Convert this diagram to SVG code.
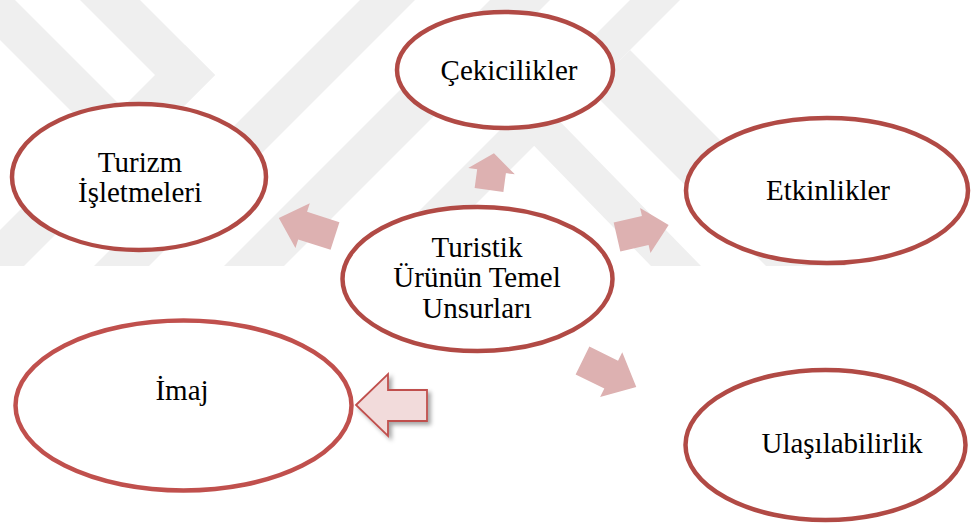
<svg xmlns="http://www.w3.org/2000/svg" width="972" height="526" viewBox="0 0 972 526">
<style>
.node{fill:#ffffff;stroke:#b14a45;stroke-width:4.5}
.node2{fill:#ffffff;stroke:#c0504d;stroke-width:4.5}
.lbl{font-family:"Liberation Serif","Times New Roman",serif;font-size:29px;fill:#000;text-anchor:middle}
.arr{fill:#ddb1b1;stroke:none}
.wm{fill:#efefef}
</style>
<defs>
<clipPath id="wmclip"><rect x="0" y="0" width="972" height="266"/></clipPath>
<filter id="sh" x="-20%" y="-20%" width="150%" height="150%">
<feDropShadow dx="3" dy="3" stdDeviation="2" flood-color="#000" flood-opacity="0.35"/>
</filter>
</defs>
<rect width="972" height="526" fill="#ffffff"/>
<g id="watermark" clip-path="url(#wmclip)">
<polygon class="wm" points="630,0 680,0 414,266 364,266"/>
<polygon class="wm" points="490,0 550,0 284,266 224,266"/>
<polygon class="wm" points="360,0 415,0 149,266 94,266"/>
<polygon class="wm" points="-40,0 15,0 165,150 110,150"/>
<polygon class="wm" points="80,0 140,0 215,75 185,105"/>
<polygon class="wm" points="185,45 215,75 24,266 -36,266"/>
<polygon class="wm" points="630,50 846,266 766,266 590,90"/>
<polygon class="wm" points="495,55 701,266 651,266 470,80"/>
</g>
<g id="connectors">
<path class="arr" transform="translate(489,190) rotate(-82.3)" d="M0,-14.5 L19,-14.5 L19,-23.5 L37,0 L19,23.5 L19,14.5 L0,14.5 Z"/>
<path class="arr" transform="translate(335,236) rotate(-162.2)" d="M0,-14.5 L34,-14.5 L34,-23.5 L59,0 L34,23.5 L34,14.5 L0,14.5 Z"/>
<path class="arr" transform="translate(617,237) rotate(-13)" d="M0,-14.8 L29,-14.8 L29,-23 L53,0 L29,23 L29,14.8 L0,14.8 Z"/>
<path class="arr" transform="translate(582.5,360.5) rotate(26.3)" d="M0,-15.5 L32,-15.5 L32,-25 L60,0 L32,25 L32,15.5 L0,15.5 Z"/>
<polygon filter="url(#sh)" fill="#f2dbdb" stroke="#c0504d" stroke-width="1.8" stroke-linejoin="miter" points="356,405 388,374 388,390 427,390 427,421 388,421 388,436"/>
</g>
<g id="cekicilikler">
<ellipse class="node" cx="505" cy="70" rx="108" ry="58"/>
<text class="lbl" x="509" y="80">Çekicilikler</text>
</g>
<g id="turizm">
<ellipse class="node" cx="139" cy="177" rx="127" ry="73"/>
<text class="lbl" x="140" y="172">Turizm</text>
<text class="lbl" x="140" y="202">İşletmeleri</text>
</g>
<g id="etkinlikler">
<ellipse class="node" cx="827" cy="190.5" rx="141" ry="72.5"/>
<text class="lbl" x="828" y="200">Etkinlikler</text>
</g>
<g id="merkez">
<ellipse class="node" cx="477.5" cy="279" rx="135" ry="72"/>
<text class="lbl" x="477" y="257">Turistik</text>
<text class="lbl" x="477" y="287">Ürünün Temel</text>
<text class="lbl" x="477" y="318">Unsurları</text>
</g>
<g id="imaj">
<ellipse class="node2" cx="183.5" cy="405.5" rx="168" ry="85"/>
<text class="lbl" x="182" y="400">İmaj</text>
</g>
<g id="ulasilabilirlik">
<ellipse class="node" cx="825.5" cy="445" rx="140" ry="75"/>
<text class="lbl" x="842" y="453">Ulaşılabilirlik</text>
</g>
</svg>
